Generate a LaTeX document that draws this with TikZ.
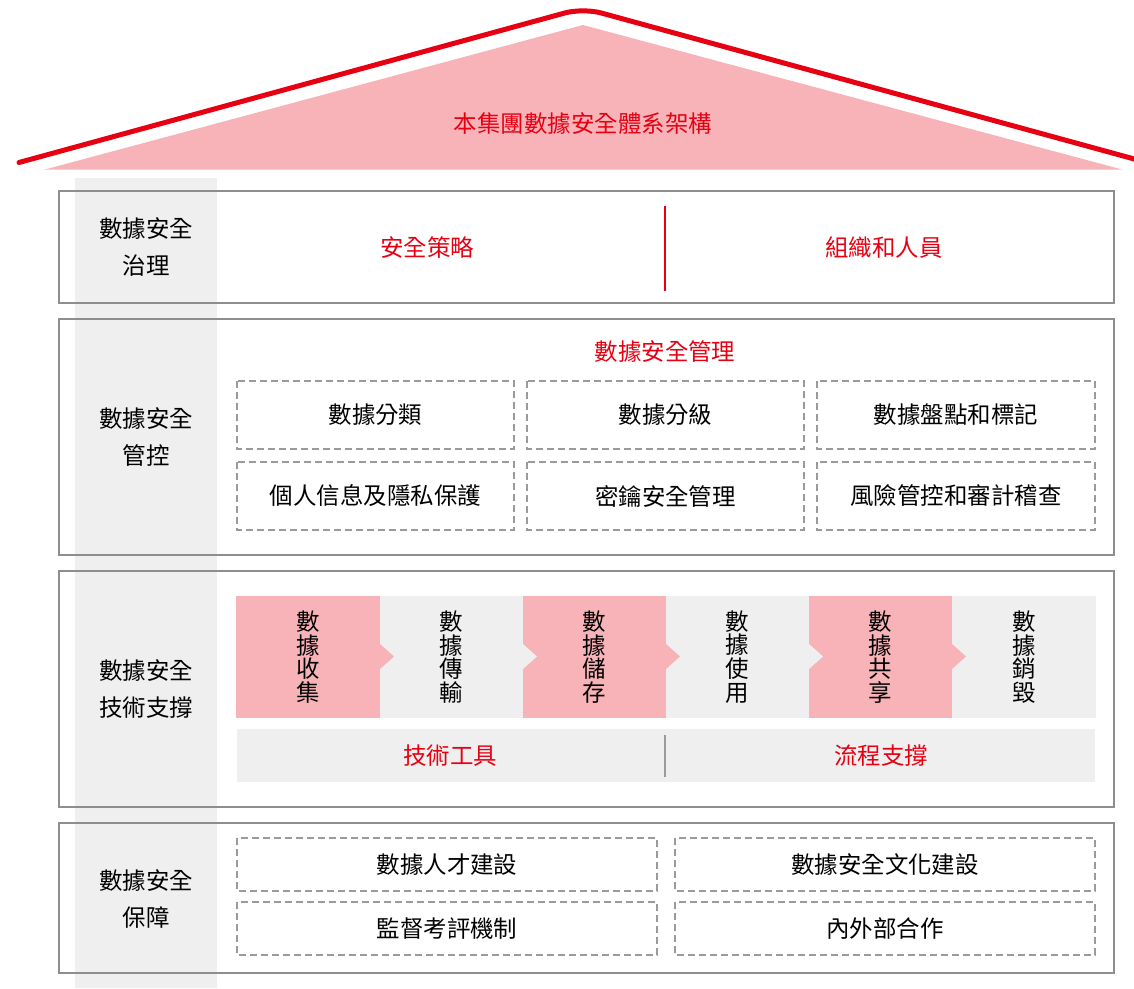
\documentclass[tikz,border=0pt]{standalone}
\usepackage{fontspec}
\setmainfont{Noto Sans CJK TC}
\definecolor{myred}{HTML}{E60012}
\definecolor{pinkf}{HTML}{F7B3B8}
\definecolor{grayf}{HTML}{EFEFEF}
\definecolor{bordergray}{HTML}{8E8E8E}
\definecolor{dashgray}{HTML}{9A9A9A}
\tikzset{
  sectbox/.style={draw=bordergray, line width=1.5pt},
  dashbox/.style={draw=dashgray, line width=1.5pt, dash pattern=on 5.25pt off 3pt},
  txt/.style={font=\fontsize{17.6pt}{22pt}\selectfont, text=black, inner sep=0pt},
  redtxt/.style={txt, text=myred},
  lbl/.style={txt, align=center, font=\fontsize{17.6pt}{27.75pt}\selectfont},
  vtxt/.style={txt, align=center, font=\fontsize{17.6pt}{17.8pt}\selectfont},
}
\begin{document}
\begin{tikzpicture}[x=0.75pt,y=-0.75pt]
\useasboundingbox (0,0) rectangle (1134,988);
\clip (0,0) rectangle (1134,988);
% roof
\fill[pinkf] (45,169.5) -- (583,25) -- (1122,169.5) -- cycle;
\draw[myred, line width=3.75pt, line cap=round, rounded corners=14pt] (19,162.5) -- (583,8) -- (1147,162.5);
\node[redtxt] (title) at (583,124) {本集團數據安全體系架構};
% left column
\fill[grayf] (75,178) rectangle (217,988);
% section boxes
\draw[sectbox] (59,191) rectangle (1114,303);
\draw[sectbox] (59,319) rectangle (1114,555);
\draw[sectbox] (59,571) rectangle (1114,807);
\draw[sectbox] (59,823) rectangle (1114,973);
% left labels
\node[lbl] (l1) at (146,247.5) {數據安全\\治理};
\node[lbl] (l2) at (146,437) {數據安全\\管控};
\node[lbl] (l3) at (146,689.5) {數據安全\\技術支撐};
\node[lbl] (l4) at (146,899) {數據安全\\保障};
% section 1
\node[redtxt] (s1a) at (427,248) {安全策略};
\node[redtxt] (s1b) at (884,248) {組織和人員};
\coordinate (d1t) at (665,206);
\coordinate (d1b) at (665,291);
\draw[myred, line width=1.5pt] (d1t) -- (d1b);
% section 2
\node[redtxt] (s2t) at (665,352) {數據安全管理};
\draw[dashbox] (237,381) rectangle (514,449);
\draw[dashbox] (527,381) rectangle (804,449);
\draw[dashbox] (817,381) rectangle (1095,449);
\draw[dashbox] (237,462) rectangle (514,530);
\draw[dashbox] (527,462) rectangle (804,530);
\draw[dashbox] (817,462) rectangle (1095,530);
\node[txt] (m1) at (375.5,415) {數據分類};
\node[txt] (m2) at (665.5,415) {數據分級};
\node[txt] (m3) at (956,415) {數據盤點和標記};
\node[txt] (m4) at (375.5,496) {個人信息及隱私保護};
\node[txt] (m5) at (665.5,496) {密鑰安全管理};
\node[txt] (m6) at (956,496) {風險管控和審計稽查};
% section 3 chevrons
\fill[pinkf] (236,596) rectangle (380,718);
\fill[grayf] (380,596) rectangle (523,718);
\fill[pinkf] (523,596) rectangle (666,718);
\fill[grayf] (666,596) rectangle (809,718);
\fill[pinkf] (809,596) rectangle (952,718);
\fill[grayf] (952,596) rectangle (1096,718);
\fill[pinkf] (380,644) -- (394,656.5) -- (380,669) -- cycle;
\fill[grayf] (523,644) -- (537,656.5) -- (523,669) -- cycle;
\fill[pinkf] (666,644) -- (680,656.5) -- (666,669) -- cycle;
\fill[grayf] (809,644) -- (823,656.5) -- (809,669) -- cycle;
\fill[pinkf] (952,644) -- (966,656.5) -- (952,669) -- cycle;
\node[vtxt] (c1) at (308,657) {數\\據\\收\\集};
\node[vtxt] (c2) at (451.5,657) {數\\據\\傳\\輸};
\node[vtxt] (c3) at (594.5,657) {數\\據\\儲\\存};
\node[vtxt] (c4) at (737.5,657) {數\\據\\使\\用};
\node[vtxt] (c5) at (880.5,657) {數\\據\\共\\享};
\node[vtxt] (c6) at (1024,657) {數\\據\\銷\\毀};
\fill[grayf] (237,729) rectangle (1095,782);
\coordinate (d3t) at (665,735);
\coordinate (d3b) at (665,777);
\draw[dashgray, line width=1.5pt] (d3t) -- (d3b);
\node[redtxt] (t1) at (450,756) {技術工具};
\node[redtxt] (t2) at (881,756) {流程支撐};
% section 4
\draw[dashbox] (237,838) rectangle (657,891);
\draw[dashbox] (675,838) rectangle (1095,891);
\draw[dashbox] (237,902) rectangle (657,955);
\draw[dashbox] (675,902) rectangle (1095,955);
\node[txt] (g1) at (447,864.5) {數據人才建設};
\node[txt] (g2) at (885,864.5) {數據安全文化建設};
\node[txt] (g3) at (447,928.5) {監督考評機制};
\node[txt] (g4) at (885,928.5) {內外部合作};
\end{tikzpicture}
\end{document}
